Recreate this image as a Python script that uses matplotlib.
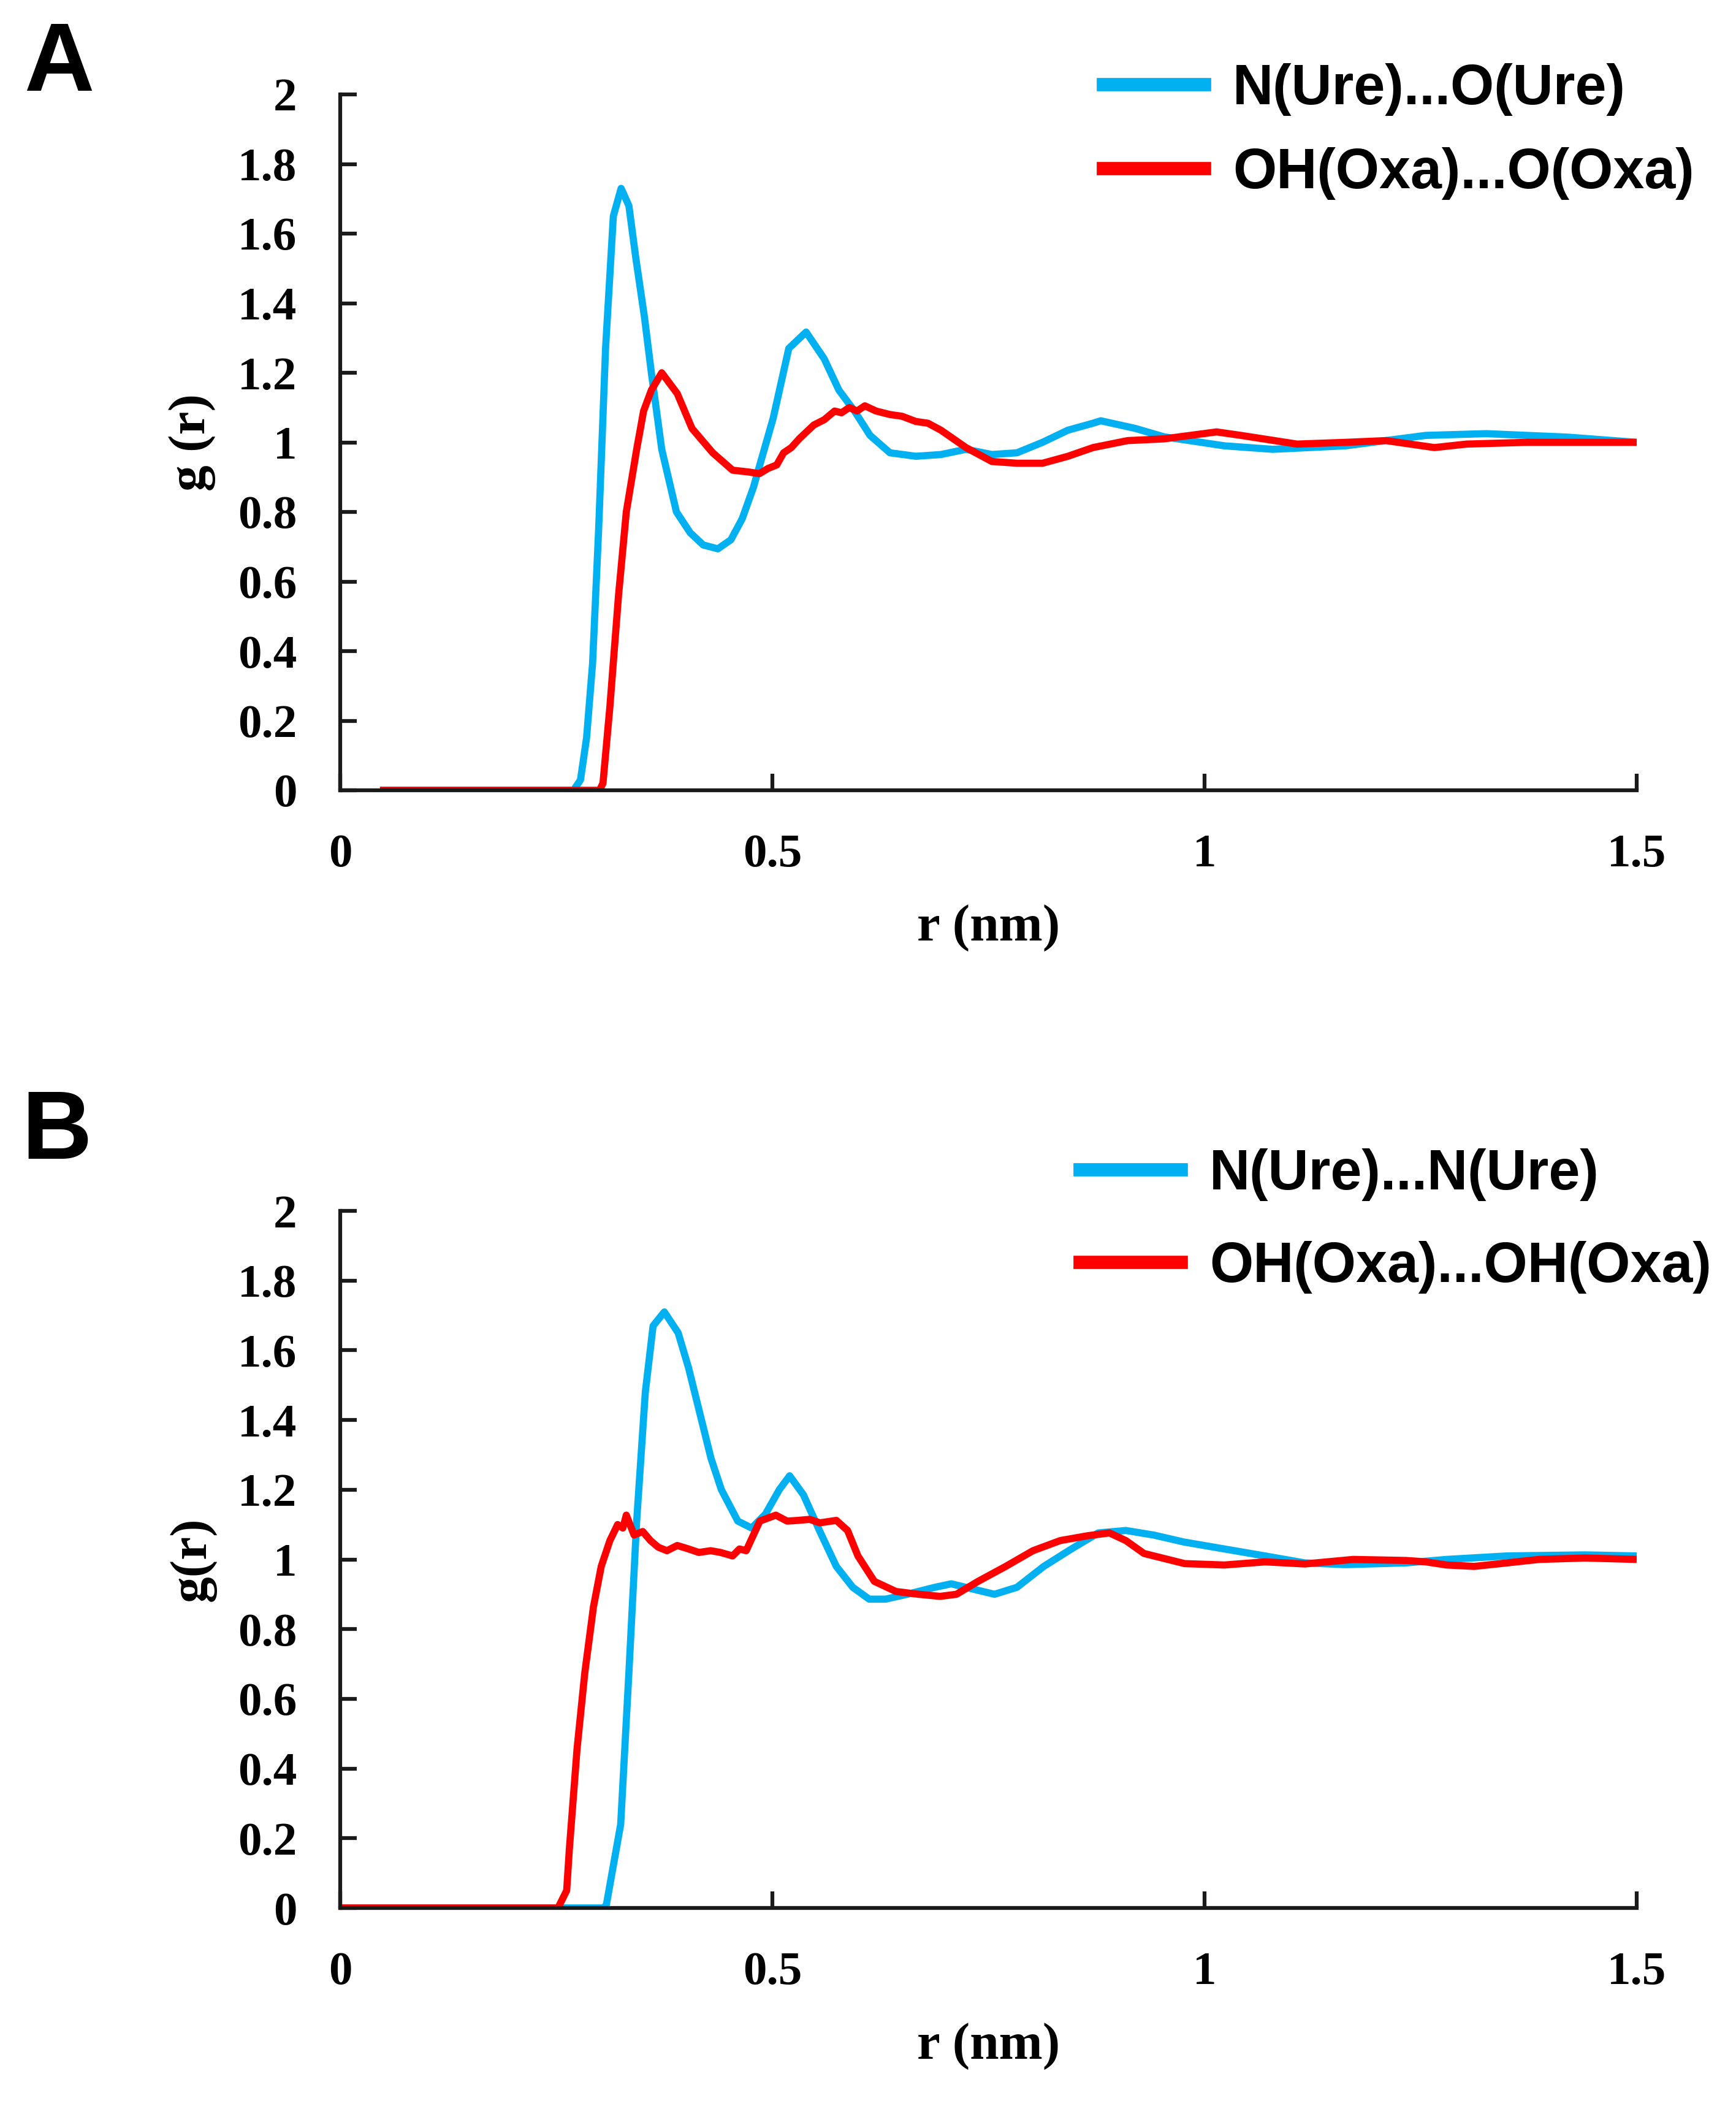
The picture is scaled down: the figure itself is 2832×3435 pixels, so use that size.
import matplotlib
matplotlib.use("Agg")
import matplotlib.pyplot as plt
from matplotlib.lines import Line2D

# ---------------- data ----------------
# Panel A
rA_blue = [0.046, 0.27, 0.278, 0.285, 0.292, 0.299, 0.307, 0.316, 0.325, 0.334, 0.342, 0.352, 0.360,
           0.372, 0.389, 0.405, 0.42, 0.437, 0.452, 0.465, 0.478, 0.501, 0.519, 0.539, 0.560, 0.577,
           0.595, 0.613, 0.636, 0.666, 0.695, 0.724, 0.754, 0.783, 0.8125, 0.842, 0.871, 0.88,
           0.92, 0.953, 1.023, 1.079, 1.163, 1.256, 1.326, 1.42, 1.5]
gA_blue = [0.0, 0.0, 0.03, 0.15, 0.365, 0.75, 1.27, 1.65, 1.73, 1.68, 1.53, 1.36, 1.20,
           0.98, 0.80, 0.74, 0.705, 0.694, 0.72, 0.78, 0.87, 1.07, 1.27, 1.317, 1.24, 1.15,
           1.09, 1.02, 0.97, 0.96, 0.965, 0.98, 0.965, 0.97, 1.0, 1.035, 1.055, 1.062,
           1.04, 1.016, 0.99, 0.98, 0.99, 1.02, 1.025, 1.015, 1.0]

rA_red = [0.046, 0.30, 0.304, 0.312, 0.322, 0.331, 0.343, 0.351, 0.360, 0.372, 0.378, 0.39,
          0.407, 0.431, 0.454, 0.472, 0.485, 0.495, 0.505, 0.513, 0.522, 0.531, 0.548, 0.56, 0.572,
          0.58, 0.589, 0.598, 0.607, 0.62, 0.636, 0.65, 0.666, 0.68, 0.695, 0.724, 0.754, 0.783,
          0.8126, 0.842, 0.871, 0.911, 0.953, 1.014, 1.042, 1.107, 1.163, 1.21, 1.266, 1.303,
          1.373, 1.5]
gA_red = [0.0, 0.0, 0.02, 0.24, 0.56, 0.80, 0.98, 1.09, 1.15, 1.20, 1.18, 1.14,
          1.04, 0.97, 0.92, 0.915, 0.91, 0.925, 0.935, 0.97, 0.985, 1.01, 1.05, 1.065, 1.09,
          1.085, 1.10, 1.09, 1.105, 1.09, 1.08, 1.075, 1.06, 1.055, 1.035, 0.985, 0.945, 0.94,
          0.94, 0.96, 0.985, 1.005, 1.01, 1.03, 1.02, 0.995, 1.0, 1.005, 0.985, 0.995,
          1.0, 1.0]

# Panel B
rB_blue = [0.0, 0.305, 0.308, 0.3245, 0.334, 0.343, 0.353, 0.362, 0.375, 0.391, 0.403, 0.416,
           0.429, 0.441, 0.460, 0.476, 0.492, 0.508, 0.520, 0.536, 0.555, 0.574, 0.593, 0.612,
           0.631, 0.656, 0.688, 0.707, 0.732, 0.757, 0.783, 0.814, 0.846, 0.877, 0.909, 0.941,
           0.976, 1.07, 1.116, 1.163, 1.233, 1.28, 1.35, 1.44, 1.5]
gB_blue = [0.0, 0.0, 0.01, 0.24, 0.675, 1.11, 1.48, 1.67, 1.71, 1.65, 1.55, 1.42,
           1.29, 1.20, 1.11, 1.09, 1.13, 1.20, 1.24, 1.185, 1.08, 0.98, 0.92, 0.886,
           0.886, 0.90, 0.92, 0.93, 0.915, 0.90, 0.92, 0.98, 1.03, 1.076, 1.083, 1.07,
           1.05, 1.01, 0.99, 0.985, 0.99, 1.0, 1.01, 1.013, 1.01]

rB_red = [0.0, 0.252, 0.262, 0.265, 0.274, 0.283, 0.293, 0.302, 0.312, 0.321, 0.327, 0.331,
          0.340, 0.35, 0.359, 0.368, 0.378, 0.39, 0.403, 0.415, 0.4286, 0.44, 0.454, 0.462,
          0.4697, 0.4855, 0.504, 0.517, 0.530, 0.543, 0.555, 0.574, 0.587, 0.599, 0.618, 0.643,
          0.669, 0.694, 0.713, 0.738, 0.770, 0.8015, 0.833, 0.865, 0.890, 0.909, 0.930, 0.977,
          1.023, 1.07, 1.116, 1.172, 1.233, 1.256, 1.28, 1.312, 1.35, 1.387, 1.44, 1.5]
gB_red = [0.0, 0.0, 0.05, 0.165, 0.456, 0.675, 0.864, 0.98, 1.054, 1.10, 1.09, 1.127,
          1.07, 1.08, 1.054, 1.035, 1.025, 1.04, 1.03, 1.02, 1.025, 1.02, 1.01, 1.03,
          1.025, 1.11, 1.127, 1.11, 1.112, 1.115, 1.105, 1.112, 1.083, 1.01, 0.937, 0.908,
          0.90, 0.894, 0.90, 0.937, 0.98, 1.025, 1.054, 1.068, 1.076, 1.054, 1.017, 0.988,
          0.984, 0.993, 0.987, 1.0, 0.997, 0.993, 0.984, 0.98, 0.99, 1.0, 1.004, 1.0]

labels_A = ["N(Ure)...O(Ure)", "OH(Oxa)...O(Oxa)"]
labels_B = ["N(Ure)...N(Ure)", "OH(Oxa)...OH(Oxa)"]
ylabels = ["g (r)", "g(r)"]
xlabel = "r (nm)"
panel_letters = ["A", "B"]
yticks = [0, 0.2, 0.4, 0.6, 0.8, 1.0, 1.2, 1.4, 1.6, 1.8, 2.0]
ytick_labels = ["0", "0.2", "0.4", "0.6", "0.8", "1", "1.2", "1.4", "1.6", "1.8", "2"]
xticks = [0, 0.5, 1.0, 1.5]
xtick_labels = ["0", "0.5", "1", "1.5"]

BLUE = "#00B0F0"
RED = "#FF0000"

# ---------------- figure ----------------
W, H = 2832, 3435
DPI = 300
fig = plt.figure(figsize=(W / DPI, H / DPI), dpi=DPI)

serif = "Liberation Serif"
sans = "Liberation Sans"

axA = fig.add_axes([555 / W, 1 - 1289 / H, (2670 - 555) / W, (1289 - 154) / H])
axB = fig.add_axes([555 / W, 1 - 3112 / H, (2670 - 555) / W, (3112 - 1975) / H])

panels = [
    (axA, rA_blue, gA_blue, rA_red, gA_red, labels_A, ylabels[0], (1800 / W, 1 - 103 / H), 0.56),
    (axB, rB_blue, gB_blue, rB_red, gB_red, labels_B, ylabels[1], (1762 / W, 1 - 1873 / H), 0.71),
]

for ax, rb, gb, rr, gr, labs, ylab, anchor, lsp in panels:
    ax.plot(rb, gb, color=BLUE, lw=2.8, solid_joinstyle="round", solid_capstyle="butt")
    ax.plot(rr, gr, color=RED, lw=2.8, solid_joinstyle="round", solid_capstyle="butt")
    ax.set_xlim(0, 1.5)
    ax.set_ylim(0, 2)
    ax.set_yticks(yticks)
    ax.set_yticklabels(ytick_labels)
    ax.set_xticks(xticks)
    ax.set_xticklabels(xtick_labels)
    for s in ["top", "right"]:
        ax.spines[s].set_visible(False)
    for s in ["left", "bottom"]:
        ax.spines[s].set_linewidth(1.5)
        ax.spines[s].set_color("#1a1a1a")
    ax.tick_params(direction="in", length=6.5, width=1.5, color="#1a1a1a", pad=17)
    for t in ax.get_xticklabels() + ax.get_yticklabels():
        t.set_fontfamily(serif)
        t.set_fontweight("bold")
        t.set_fontsize(18.5)
    ax.set_ylabel(ylab, fontfamily=serif, fontweight="bold", fontsize=20.5)
    ax.set_xlabel(xlabel, fontfamily=serif, fontweight="bold", fontsize=20.5)
    ax.yaxis.set_label_coords(-0.114, 0.5)
    ax.yaxis.label.set_va("center")
    ax.xaxis.set_label_coords(0.5, -0.198)
    ax.xaxis.label.set_va("center")
    handles = [Line2D([0], [0], color=BLUE, lw=5.2), Line2D([0], [0], color=RED, lw=5.2)]
    ax.legend(handles, labs, loc="upper left", bbox_to_anchor=anchor,
              bbox_transform=fig.transFigure, frameon=False, borderpad=0,
              borderaxespad=0, handlelength=1.8, handletextpad=0.5,
              labelspacing=lsp, prop={"family": sans, "weight": "bold", "size": 22})

fig.text(96 / W, 1 - 108 / H, panel_letters[0], fontfamily=sans, fontweight="bold",
         fontsize=38, ha="center", va="center")
fig.text(93 / W, 1 - 1850 / H, panel_letters[1], fontfamily=sans, fontweight="bold",
         fontsize=38, ha="center", va="center")

fig.savefig("out.png", dpi=DPI, facecolor="white")
